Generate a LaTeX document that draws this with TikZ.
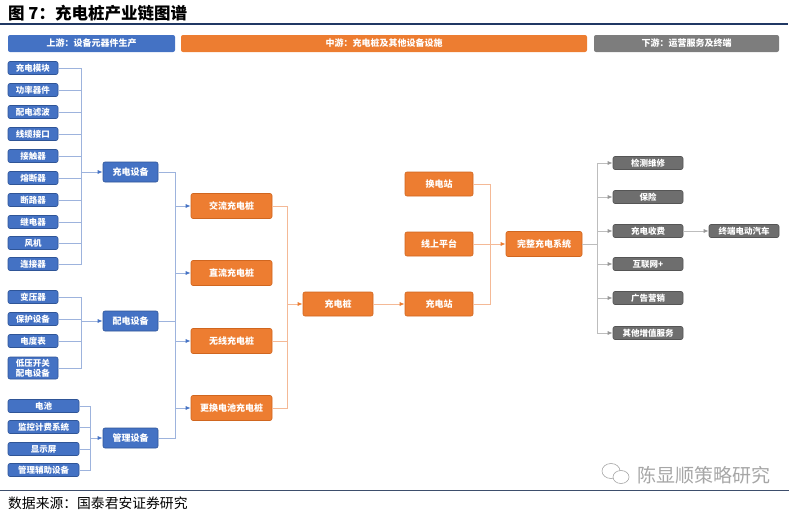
\documentclass[tikz,border=0pt]{standalone}
\usepackage{fontspec}
\setmainfont{Noto Sans CJK SC}
\usetikzlibrary{arrows.meta}

\definecolor{upblue}{HTML}{4472C4}
\definecolor{upedge}{HTML}{2F5597}
\definecolor{upline}{HTML}{9DB3DD}
\definecolor{midorange}{HTML}{ED7D31}
\definecolor{midedge}{HTML}{D0661F}
\definecolor{midline}{HTML}{F4B996}
\definecolor{downgray}{HTML}{6E6E6E}
\definecolor{downedge}{HTML}{555555}
\definecolor{downline}{HTML}{BDBDBD}
\definecolor{rulenavy}{HTML}{203864}
\definecolor{markgray}{HTML}{A6A6A6}

\tikzset{
  box/.style={rounded corners=2pt, inner sep=0pt, text=white, align=center,
    font=\fontsize{8.5}{10}\selectfont\bfseries, line width=0.6pt},
  bluebox/.style={box, fill=upblue, draw=upedge},
  orangebox/.style={box, fill=midorange, draw=midedge, font=\fontsize{9}{11}\selectfont\bfseries},
  graybox/.style={box, fill=downgray, draw=downedge},
  partbox/.style={bluebox, minimum width=50pt, minimum height=13pt},
  longpart/.style={bluebox, minimum width=71pt, minimum height=13pt},
  devbox/.style={bluebox, minimum width=55pt, minimum height=20pt, font=\fontsize{9}{11}\selectfont\bfseries},
  pilebox/.style={orangebox, minimum width=81pt, minimum height=25pt},
  svcbox/.style={graybox, minimum width=70pt, minimum height=13pt},
  header/.style={rounded corners=2pt, inner sep=0pt, text=white, minimum height=17pt,
    font=\fontsize{9}{11}\selectfont\bfseries},
  bline/.style={draw=upline, line width=0.8pt},
  barrow/.style={bline, -{Latex[length=5pt,width=4pt,color=upblue]}},
  oline/.style={draw=midline, line width=0.8pt},
  oarrow/.style={oline, -{Latex[length=5pt,width=4pt,color=midorange]}},
  gline/.style={draw=downline, line width=0.8pt},
  garrow/.style={gline, -{Latex[length=5pt,width=4pt,color=downline!80!black]}},
}

\begin{document}
\begin{tikzpicture}[x=1pt, y=-1pt]
\useasboundingbox (0,0) rectangle (800,514);

% title and rules
\node[anchor=west, inner sep=0pt, font=\fontsize{16.5}{18}\selectfont\bfseries] (title) at (8,13) {图 7：充电桩产业链图谱};
\draw[rulenavy, line width=1.2pt] (0,24) -- (788,24);
\draw[rulenavy!70!gray, line width=1pt] (0,490) -- (789,490);
\node[anchor=west, inner sep=0pt, font=\fontsize{13.8}{15}\selectfont] (source) at (8,503) {数据来源：国泰君安证券研究};

% header bars
\node[header, fill=upblue, minimum width=167pt] (hup) at (91.5,43.5) {上游：设备元器件生产};
\node[header, fill=midorange, minimum width=406pt] (hmid) at (384,43.5) {中游：充电桩及其他设备设施};
\node[header, fill=downgray!90!white, minimum width=185pt] (hdown) at (686.5,43.5) {下游：运营服务及终端};

% upstream parts
\node[partbox] (mk) at (33,68) {充电模块};
\node[partbox] (gl) at (33,90) {功率器件};
\node[partbox] (lb) at (33,112) {配电滤波};
\node[partbox] (xl) at (33,134) {线缆接口};
\node[partbox] (jc) at (33,156) {接触器};
\node[partbox] (rd) at (33,178) {熔断器};
\node[partbox] (dl) at (33,200) {断路器};
\node[partbox] (jd) at (33,222) {继电器};
\node[partbox] (fj) at (33,243) {风机};
\node[partbox] (lj) at (33,264) {连接器};

\node[partbox] (by) at (33,297) {变压器};
\node[partbox] (bh) at (33,319) {保护设备};
\node[partbox] (dd) at (33,341) {电度表};
\node[partbox, minimum height=22pt] (dy) at (33,368) {低压开关\\配电设备};

\node[longpart] (dc) at (43.5,406) {电池};
\node[longpart] (jk) at (43.5,427) {监控计费系统};
\node[longpart] (xs) at (43.5,449) {显示屏};
\node[longpart] (fz) at (43.5,470) {管理辅助设备};

% upstream equipment
\node[devbox] (cdsb) at (130.5,172) {充电设备};
\node[devbox] (pdsb) at (130.5,321) {配电设备};
\node[devbox] (glsb) at (130.5,438) {管理设备};

\coordinate (b1) at (81,172);
\coordinate (b2) at (81,321);
\coordinate (b3) at (90,438);
\foreach \n in {mk,gl,lb,xl,jc,rd,dl,jd,fj,lj}
  \draw[bline] (\n.east) -| (b1);
\foreach \n in {by,bh,dd,dy}
  \draw[bline] (\n.east) -| (b2);
\foreach \n in {dc,jk,xs,fz}
  \draw[bline] (\n.east) -| (b3);
\draw[barrow] (b1) -- (cdsb.west);
\draw[barrow] (b2) -- (pdsb.west);
\draw[barrow] (b3) -- (glsb.west);

% midstream piles
\node[pilebox] (jlz) at (231.5,206) {交流充电桩};
\node[pilebox] (zlz) at (231.5,273) {直流充电桩};
\node[pilebox] (wxz) at (231.5,341) {无线充电桩};
\node[pilebox] (ghz) at (231.5,408) {更换电池充电桩};

\coordinate (b4) at (175,172);
\draw[bline] (cdsb.east) -| (b4 |- glsb.east) -- (glsb.east);
\draw[bline] (pdsb.east) -- (b4 |- pdsb.east);
\foreach \n in {jlz,zlz,wxz,ghz}
  \draw[barrow] (b4 |- \n.west) -- (\n.west);

\node[orangebox, minimum width=70pt, minimum height=24pt] (cdz) at (338,304) {充电桩};
\coordinate (b5) at (287,304);
\foreach \n in {jlz,wxz,ghz}
  \draw[oline] (\n.east) -| (b5);
\draw[oarrow] (b5) -- (cdz.west);

% stations
\node[orangebox, minimum width=68pt, minimum height=24pt] (hdzn) at (439,184) {换电站};
\node[orangebox, minimum width=68pt, minimum height=24pt] (xspt) at (439,244) {线上平台};
\node[orangebox, minimum width=68pt, minimum height=24pt] (cdzn) at (439,304) {充电站};
\draw[oarrow] (cdz.east) -- (cdzn.west);

\node[orangebox, minimum width=76pt, minimum height=25pt] (wzxt) at (544,244) {完整充电系统};
\coordinate (b6) at (490,244);
\draw[oline] (hdzn.east) -| (b6);
\draw[oline] (cdzn.east) -| (b6);
\draw[oarrow] (xspt.east) -- (wzxt.west);

% downstream services
\node[svcbox] (jcwx) at (648,163) {检测维修};
\node[svcbox] (bx) at (648,197) {保险};
\node[svcbox] (cdsf) at (648,231) {充电收费};
\node[svcbox] (hlw) at (648,264) {互联网+};
\node[svcbox] (ggyx) at (648,298) {广告营销};
\node[svcbox] (qtzz) at (648,333) {其他增值服务};
\node[svcbox] (zdqc) at (744,231) {终端电动汽车};

\coordinate (b7) at (597,244);
\draw[gline] (wzxt.east) -- (b7);
\draw[gline] (b7 |- jcwx.west) -- (b7 |- qtzz.west);
\foreach \n in {jcwx,bx,cdsf,hlw,ggyx,qtzz}
  \draw[garrow] (b7 |- \n.west) -- (\n.west);
\draw[garrow] (cdsf.east) -- (zdqc.west);

% watermark
\draw[markgray, line width=0.6pt] (611,471) ellipse (9pt and 7.5pt);
\draw[markgray, line width=0.6pt, fill=white] (621,477) ellipse (8pt and 6.5pt);
\node[anchor=west, inner sep=0pt, text=markgray, font=\fontsize{19}{21}\selectfont] (mark) at (637,475) {陈显顺策略研究};

\end{tikzpicture}
\end{document}
